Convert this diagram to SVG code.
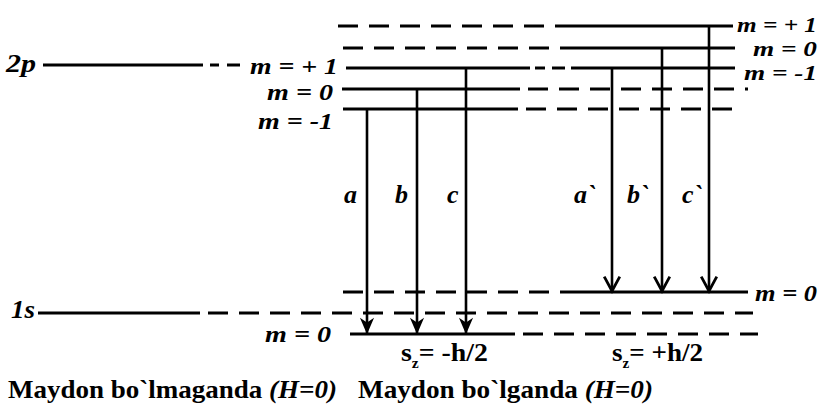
<svg xmlns="http://www.w3.org/2000/svg" width="824" height="413" viewBox="0 0 824 413">
<style>
.s{stroke:#000;stroke-width:3;fill:none}
.d{stroke:#000;stroke-width:3;fill:none;stroke-dasharray:20 11}
.v{stroke:#000;stroke-width:2.6;fill:none}
.t{font-weight:bold;font-style:italic;font-size:24px;fill:#000}
.sm{font-size:21px}
.big{font-size:26px}
.u{font-weight:bold;font-size:25px;fill:#000}
</style>
<defs>
<marker id="af" markerUnits="userSpaceOnUse" markerWidth="20" markerHeight="20" refX="0" refY="0" viewBox="-15 -8 17 16" orient="auto">
<path d="M1,0 L-13,-6 L-9,0 L-13,6 Z" fill="#000"/>
</marker>
<marker id="ao" markerUnits="userSpaceOnUse" markerWidth="20" markerHeight="20" refX="0" refY="0" viewBox="-15 -9 17 18" orient="auto">
<path d="M-13,-7 L0,0 L-13,7" fill="none" stroke="#000" stroke-width="2.5"/>
</marker>
</defs>
<rect width="824" height="413" fill="#fff"/>
<g font-family="Liberation Serif, DejaVu Serif, serif">
<g id="level-2p">
<line class="s" x1="43" y1="65" x2="203" y2="65"/>
<line class="s" x1="210" y1="65" x2="219" y2="65"/>
<line class="s" x1="227" y1="65" x2="240" y2="65"/>
<text class="t big" x="6" y="72" textLength="30" lengthAdjust="spacingAndGlyphs">2p</text>
<text class="t" x="250" y="74" textLength="88" lengthAdjust="spacingAndGlyphs">m = + 1</text>
<text class="t" x="267" y="100" textLength="66" lengthAdjust="spacingAndGlyphs">m = 0</text>
<text class="t" x="258" y="129" textLength="75" lengthAdjust="spacingAndGlyphs">m = -1</text>
</g>

<g id="levels-2p-field">
<line class="d" x1="338" y1="26" x2="567" y2="26"/>
<line class="s" x1="567" y1="26" x2="733" y2="26"/>
<line class="d" x1="343" y1="48" x2="567" y2="48"/>
<line class="s" x1="567" y1="48" x2="735" y2="48"/>
<line class="s" x1="346" y1="68" x2="530" y2="68"/>
<line class="s" x1="535" y1="68" x2="545" y2="68"/>
<line class="s" x1="552" y1="68" x2="565" y2="68"/>
<line class="s" x1="571" y1="68" x2="735" y2="68"/>
<line class="s" x1="342" y1="89" x2="520" y2="89"/>
<line class="d" x1="528" y1="89" x2="748" y2="89"/>
<line class="s" x1="343" y1="109" x2="518" y2="109"/>
<line class="d" x1="526" y1="109" x2="735" y2="109"/>
<text class="t sm" x="737" y="32" textLength="80" lengthAdjust="spacingAndGlyphs">m = + 1</text>
<text class="t sm" x="753" y="56" textLength="64" lengthAdjust="spacingAndGlyphs">m = 0</text>
<text class="t sm" x="744" y="80" textLength="73" lengthAdjust="spacingAndGlyphs">m = -1</text>
</g>

<g id="level-1s">
<line class="s" x1="38" y1="313" x2="200" y2="313"/>
<line class="d" x1="208" y1="313" x2="753" y2="313"/>
<text class="t big" x="11" y="318" textLength="24" lengthAdjust="spacingAndGlyphs">1s</text>
<text class="t" x="265" y="342" textLength="66" lengthAdjust="spacingAndGlyphs">m = 0</text>
</g>

<g id="levels-1s-field">
<line class="d" x1="343" y1="292" x2="573" y2="292"/>
<line class="s" x1="573" y1="292" x2="748" y2="292"/>
<line class="s" x1="350" y1="334" x2="515" y2="334"/>
<line class="d" x1="523" y1="334" x2="758" y2="334"/>
<text class="t" x="755" y="301" textLength="62" lengthAdjust="spacingAndGlyphs">m = 0</text>
</g>

<g id="connectors">
<line class="v" x1="367" y1="109" x2="367" y2="333" marker-end="url(#af)"/>
<line class="v" x1="417" y1="89" x2="417" y2="333" marker-end="url(#af)"/>
<line class="v" x1="466" y1="68" x2="466" y2="333" marker-end="url(#af)"/>
<line class="v" x1="612" y1="68" x2="612" y2="291" marker-end="url(#ao)"/>
<line class="v" x1="662" y1="48" x2="662" y2="291" marker-end="url(#ao)"/>
<line class="v" x1="709" y1="26" x2="709" y2="291" marker-end="url(#ao)"/>
</g>

<g id="transition-labels">
<text class="t big" x="344" y="203">a</text>
<text class="t big" x="395" y="203">b</text>
<text class="t big" x="447" y="203">c</text>
<text class="t big" x="574" y="203">a`</text>
<text class="t big" x="627" y="203">b`</text>
<text class="t big" x="682" y="203">c`</text>
</g>

<g id="spin-labels">
<text class="u" x="401" y="361" textLength="87" lengthAdjust="spacingAndGlyphs">s<tspan dy="7" font-size="14">z</tspan><tspan dy="-7">= -h/2</tspan></text>
<text class="u" x="612" y="361" textLength="91" lengthAdjust="spacingAndGlyphs">s<tspan dy="7" font-size="14">z</tspan><tspan dy="-7">= +h/2</tspan></text>
</g>

<g id="captions">
<text class="u" x="8" y="398" textLength="329" lengthAdjust="spacingAndGlyphs">Maydon bo`lmaganda <tspan font-style="italic">(H=0)</tspan></text>
<text class="u" x="358" y="398" textLength="295" lengthAdjust="spacingAndGlyphs">Maydon bo`lganda <tspan font-style="italic">(H=0)</tspan></text>
</g>
</g>
</svg>
